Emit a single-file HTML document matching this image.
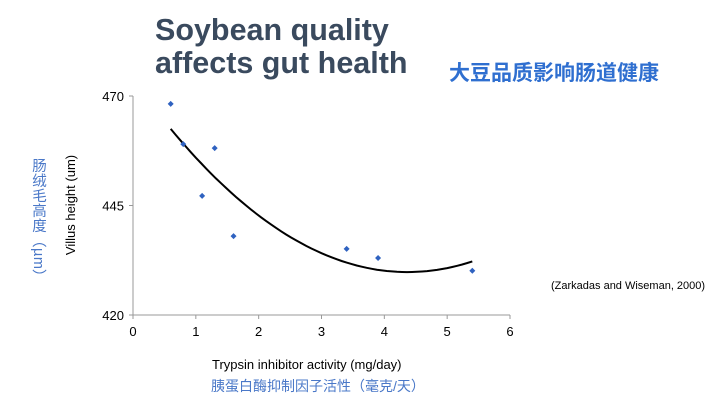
<!DOCTYPE html>
<html><head><meta charset="utf-8"><style>
body{margin:0;width:720px;height:405px;background:#fff;overflow:hidden;font-family:"Liberation Sans","Noto Sans CJK SC",sans-serif;position:relative}
.t{position:absolute}
</style></head><body>
<div class="t" style="left:155px;top:14px;font-size:30.5px;font-weight:bold;color:#3a4a5e;line-height:33px">Soybean quality<br>affects gut health</div>
<div class="t" style="left:449px;top:57px;font-size:21px;font-weight:bold;color:#2f6fd0;font-family:'Liberation Sans','Noto Sans CJK SC',sans-serif">大豆品质影响肠道健康</div>
<div class="t" style="left:28px;top:158px;writing-mode:vertical-rl;font-size:14.5px;color:#4a78c8;letter-spacing:0.5px">肠绒毛高度（µm）</div>
<div class="t" style="left:551px;top:280px;font-size:11px;color:#000">(Zarkadas and Wiseman, 2000)</div>
<div class="t" style="left:212px;top:357px;font-size:13px;color:#000">Trypsin inhibitor activity (mg/day)</div>
<div class="t" style="left:211px;top:376px;font-size:14px;color:#4a78c8">胰蛋白酶抑制因子活性（毫克/天）</div>
<svg id="c" width="720" height="405" style="position:absolute;left:0;top:0"></svg>
<script>
const xVals=[0.6,0.8,1.1,1.3,1.6,3.4,3.9,5.4];
const yVals=[468.2,459,447.2,458.1,438,435.1,433,430.1];
const xTicks=[0,1,2,3,4,5,6];
const yTicks=[420,445,470];
const trendCoef=[2.3,4.37,429.8]; // a*(x-h)^2+k
const NS='http://www.w3.org/2000/svg';
const svg=document.getElementById('c');
const X=v=>133+v*(377/6), Y=v=>315-(v-420)*(219/50);
function mk(t,a){const e=document.createElementNS(NS,t);for(const k in a)e.setAttribute(k,a[k]);svg.appendChild(e);return e;}
const ax=mk('path',{d:`M${X(0)} ${Y(470)}V${Y(420)}H${X(6)}`,fill:'none',stroke:'#999','stroke-width':1});


xTicks.forEach(t=>{
 const l=mk('line',{x1:X(t),x2:X(t),y1:Y(420),y2:Y(420)+4,stroke:'#999'});
 
 
 const tx=mk('text',{x:X(t),y:336,'text-anchor':'middle','font-size':13,'font-family':'Liberation Sans'});
 tx.textContent=t;
 
 
});
yTicks.forEach(t=>{
 const l=mk('line',{x1:X(0)-4,x2:X(0),y1:Y(t),y2:Y(t),stroke:'#999'});
 
 
 const tx=mk('text',{x:X(0)-9,y:Y(t)+5,'text-anchor':'end','font-size':13,'font-family':'Liberation Sans'});
 tx.textContent=t;
 
 
});
const yt=mk('text',{x:0,y:0,transform:'translate(75,205) rotate(-90)','text-anchor':'middle','font-size':13,'font-family':'Liberation Sans'});
yt.textContent='Villus height (um)';


let d='';const x0=Math.min(...xVals),x1=Math.max(...xVals);
for(let i=0;i<=60;i++){const x=x0+(x1-x0)*i/60;const y=trendCoef[0]*(x-trendCoef[1])**2+trendCoef[2];d+=(i?'L':'M')+X(x).toFixed(1)+' '+Y(y).toFixed(1);}
const tr=mk('path',{d,fill:'none',stroke:'#000','stroke-width':2});


xVals.forEach((x,i)=>{const cx=X(x),cy=Y(yVals[i]);
 const p=mk('path',{d:`M${cx} ${cy-3}L${cx+3} ${cy}L${cx} ${cy+3}L${cx-3} ${cy}Z`,fill:'#2f62c0'});
 
 
});
</script>
</body></html>
